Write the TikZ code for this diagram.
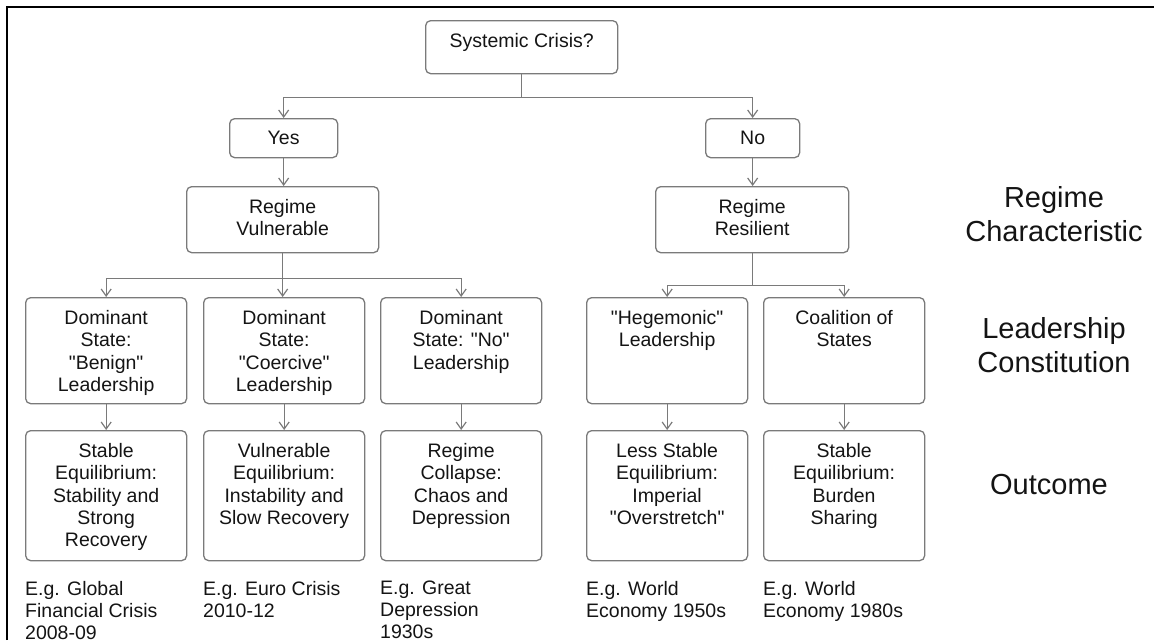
\documentclass[tikz,border=0pt]{standalone}
\usepackage{fontspec}
\setmainfont{Liberation Sans}[Ligatures=TeXOff]
\usetikzlibrary{arrows.meta}
\definecolor{linegray}{HTML}{7A7A7A}
\definecolor{txtcol}{HTML}{141414}
\begin{document}
\begin{tikzpicture}[x=1pt,y=-1pt,
  box/.style={draw=linegray, line width=1.3pt, rounded corners=5pt, inner sep=0pt, anchor=north west},
  boxtxt/.style={anchor=north, inner sep=0pt, align=center, text=txtcol, font=\fontsize{19.5}{22.4}\selectfont},
  eg/.style={anchor=north west, inner sep=0pt, align=left, text=txtcol, font=\fontsize{19.5}{22}\selectfont},
  side/.style={anchor=north, inner sep=0pt, align=center, text=txtcol, font=\fontsize{29}{33.5}\selectfont},
  conn/.style={draw=linegray, line width=1.2pt, -{Straight Barb[length=7pt,width=10pt]}},
  wA/.style={minimum width=192pt},
  wL/.style={minimum width=161pt}]
\useasboundingbox (0,0) rectangle (1154,640);
% frame
\draw[line width=2.5pt, black] (7,640) -- (7,7) -- (1154,7);

% boxes
\node[box, wA, minimum height=53pt] (crisis) at (425,20) {};
\node[box, minimum width=108pt, minimum height=39pt] (yes) at (229,118) {};
\node[box, minimum width=94pt, minimum height=39pt] (no) at (705,118) {};
\node[box, wA, minimum height=66pt] (rv) at (186,186) {};
\node[box, minimum width=193pt, minimum height=66pt] (rr) at (655,186) {};

\node[box, wL, minimum height=106pt] (d1) at (25,297) {};
\node[box, wL, minimum height=106pt] (d2) at (203,297) {};
\node[box, wL, minimum height=106pt] (d3) at (380,297) {};
\node[box, wL, minimum height=106pt] (h1) at (586,297) {};
\node[box, wL, minimum height=106pt] (h2) at (763,297) {};

\node[box, wL, minimum height=130pt] (o1) at (25,430) {};
\node[box, wL, minimum height=130pt] (o2) at (203,430) {};
\node[box, wL, minimum height=130pt] (o3) at (380,430) {};
\node[box, wL, minimum height=130pt] (o4) at (586,430) {};
\node[box, wL, minimum height=130pt] (o5) at (763,430) {};

% box texts
\node[boxtxt] (tcrisis) at ([yshift=-13pt]crisis.north) {Systemic Crisis?};
\node[boxtxt] (tyes) at ([yshift=-13pt]yes.north) {Yes};
\node[boxtxt] (tno) at ([yshift=-13pt]no.north) {No};
\node[boxtxt] (trv) at ([yshift=-13pt]rv.north) {Regime\\Vulnerable};
\node[boxtxt] (trr) at ([yshift=-13pt]rr.north) {Regime\\Resilient};

\node[boxtxt] (td1) at ([yshift=-13pt]d1.north) {Dominant\\State:\\"Benign"\\Leadership};
\node[boxtxt] (td2) at ([yshift=-13pt]d2.north) {Dominant\\State:\\"Coercive"\\Leadership};
\node[boxtxt] (td3) at ([yshift=-13pt]d3.north) {Dominant\\State: "No"\\Leadership};
\node[boxtxt] (th1) at ([yshift=-13pt]h1.north) {"Hegemonic"\\Leadership};
\node[boxtxt] (th2) at ([yshift=-13pt]h2.north) {Coalition of\\States};

\node[boxtxt] (to1) at ([yshift=-13pt]o1.north) {Stable\\Equilibrium:\\Stability and\\Strong\\Recovery};
\node[boxtxt] (to2) at ([yshift=-13pt]o2.north) {Vulnerable\\Equilibrium:\\Instability and\\Slow Recovery};
\node[boxtxt] (to3) at ([yshift=-13pt]o3.north) {Regime\\Collapse:\\Chaos and\\Depression};
\node[boxtxt] (to4) at ([yshift=-13pt]o4.north) {Less Stable\\Equilibrium:\\Imperial\\"Overstretch"};
\node[boxtxt] (to5) at ([yshift=-13pt]o5.north) {Stable\\Equilibrium:\\Burden\\Sharing};

% examples
\node[eg] (e1) at (25,581) {E.g. Global\\Financial Crisis\\2008-09};
\node[eg] (e2) at (203,581) {E.g. Euro Crisis\\2010-12};
\node[eg] (e3) at (380,581) {E.g. Great\\Depression\\1930s};
\node[eg] (e4) at (586,581) {E.g. World\\Economy 1950s};
\node[eg] (e5) at (763,581) {E.g. World\\Economy 1980s};

% side labels
\node[side] (s1) at (1054,186.5) {Regime\\Characteristic};
\node[side] (s2) at (1054,317.5) {Leadership\\Constitution};
\node[side] (s3) at (1049,474.5) {Outcome};

% connectors
\draw[conn] (crisis.south) -- ++(0,23) -| (yes.north);
\draw[conn] (crisis.south) -- ++(0,23) -| (no.north);
\draw[conn] (yes.south) -- (yes.south |- rv.north);
\draw[conn] (no.south) -- (no.south |- rr.north);
\draw[conn] (rv.south) -- ++(0,25) -| (d1.north);
\draw[conn] (rv.south) -- (rv.south |- d2.north);
\draw[conn] (rv.south) -- ++(0,25) -| (d3.north);
\draw[conn] (rr.south) -- ++(0,32) -| (h1.north);
\draw[conn] (rr.south) -- ++(0,32) -| (h2.north);
\draw[conn] (d1.south) -- (o1.north);
\draw[conn] (d2.south) -- (o2.north);
\draw[conn] (d3.south) -- (o3.north);
\draw[conn] (h1.south) -- (o4.north);
\draw[conn] (h2.south) -- (o5.north);
\end{tikzpicture}
\end{document}
